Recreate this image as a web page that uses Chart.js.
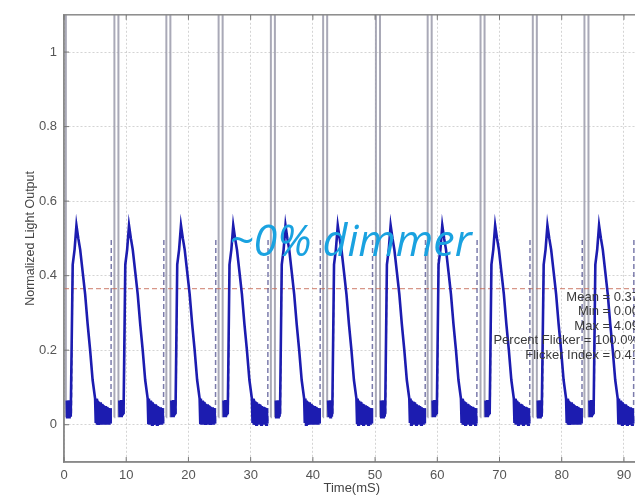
<!DOCTYPE html>
<html>
<head>
<meta charset="utf-8">
<script src="https://cdn.jsdelivr.net/npm/chart.js@4/dist/chart.umd.min.js"></script>
<style>
  body { margin: 0; background: #fff; overflow: hidden; }
  #wrap { width: 645px; height: 499px; }
</style>
</head>
<body>
<div id="wrap"><canvas id="myChart" width="645" height="499"></canvas></div>
<script>
// axis ticks
const xTicks = [0, 10, 20, 30, 40, 50, 60, 70, 80, 90];
const yTicks = [0, 0.2, 0.4, 0.6, 0.8, 1];

// time (ms) of each lamp spike
const cycleStarts = [0, 8.45, 16.8, 25.2, 33.6, 42.0, 50.5, 58.8, 67.3, 75.7, 84.0];

// blue light pulse after each spike (ms after spike, normalized output)
const pulseT = [0.45, 0.5, 0.58, 0.66, 0.74, 0.82, 0.9, 0.98, 1.05, 1.12,
  1.4, 1.7, 2.0, 2.3, 2.6, 3.0, 3.4, 3.8, 4.2, 4.6, 5.0,
  5.1, 5.2, 5.3, 5.4, 5.5, 5.6, 5.7, 5.8, 5.9, 6.0, 6.1, 6.2, 6.3, 6.4, 6.5,
  6.6, 6.7, 6.8, 6.9, 7.0, 7.1, 7.2, 7.3, 7.4, 7.5];
const pulseV = [0.065, 0.02, 0.062, 0.025, 0.066, 0.02, 0.06, 0.025, 0.055, 0.028,
  0.43, 0.47, 0.535, 0.5, 0.47, 0.41, 0.35, 0.27, 0.2, 0.12, 0.07,
  0.005, 0.07, 0.0, 0.065, 0.003, 0.062, 0.0, 0.06, 0.003, 0.056, 0.0, 0.055, 0.004, 0.052, 0.0,
  0.05, 0.003, 0.048, 0.0, 0.047, 0.004, 0.045, 0.0, 0.044, 0.003];

// fast sparse edges of the same trace
const riseT = [1.2, 1.4, 1.4, 7.55, 7.6];
const riseV = [0.03, 0.43, null, 0.01, 0.5];

// gray spike (goes off scale, max 4.09)
const spikeT = [-0.37, -0.35, 0.28, 0.3];
const spikeV = [0.02, 4.09, 4.09, 0.02];

const meanLevel = 0.365;
const statLines = ['Mean = 0.37', 'Min = 0.00', 'Max = 4.09', 'Percent Flicker = 100.0%', 'Flicker Index = 0.41'];
const overlayText = '~0% dimmer';

function buildSeries(tArr, vArr) {
  let pts = [];
  cycleStarts.forEach(s => {
    tArr.forEach((t, i) => {
      pts.push({x: s + t, y: vArr[i]});
    });
    pts.push({x: s + tArr[tArr.length - 1], y: null});
  });
  return pts;
}

const boxPlugin = {
  id: 'box',
  afterDraw(chart) {
    const ctx = chart.ctx;
    const a = chart.chartArea;
    const xs = chart.scales.x;
    const ys = chart.scales.y;
    ctx.save();
    ctx.strokeStyle = '#8a8a8a';
    ctx.lineWidth = 1.5;
    ctx.strokeRect(a.left, a.top, a.right - a.left, a.bottom - a.top);
    ctx.lineWidth = 1;
    ctx.strokeStyle = '#777';
    ctx.beginPath();
    xTicks.forEach(v => {
      let px = xs.getPixelForValue(v);
      ctx.moveTo(px, a.top); ctx.lineTo(px, a.top + 5);
      ctx.moveTo(px, a.bottom); ctx.lineTo(px, a.bottom - 5);
    });
    yTicks.forEach(v => {
      let py = ys.getPixelForValue(v);
      ctx.moveTo(a.left, py); ctx.lineTo(a.left + 5, py);
    });
    ctx.stroke();

    // stats box text
    ctx.font = '13px "Liberation Sans", Arial, sans-serif';
    ctx.fillStyle = '#3a3a3a';
    ctx.textAlign = 'right';
    ctx.textBaseline = 'middle';
    statLines.forEach((s, i) => {
      ctx.fillText(s, 639, 297 + i * 14.6);
    });

    // overlay label
    ctx.font = 'italic 43px "Open Sans", sans-serif';
    ctx.fillStyle = '#1aa2e0';
    ctx.textAlign = 'left';
    ctx.textBaseline = 'alphabetic';
    ctx.fillText(overlayText, 229, 256);
    ctx.restore();
  }
};

const ctx = document.getElementById('myChart');

new Chart(ctx, {
  type: 'line',
  data: {
    datasets: [
      {
        label: 'Light output',
        data: buildSeries(pulseT, pulseV),
        borderColor: '#1c1cb0',
        borderWidth: 2.6,
        pointRadius: 0,
        tension: 0
      },
      {
        label: 'Edges',
        data: buildSeries(riseT, riseV),
        borderColor: 'rgba(90, 90, 150, 0.8)',
        borderWidth: 1.5,
        borderDash: [5, 3],
        pointRadius: 0,
        tension: 0
      },
      {
        label: 'Mean',
        data: [{x: 0, y: meanLevel}, {x: 92.5, y: meanLevel}],
        borderColor: 'rgba(200, 110, 90, 0.9)',
        borderWidth: 1,
        borderDash: [5, 3],
        pointRadius: 0
      },
      {
        label: 'Spikes',
        data: buildSeries(spikeT, spikeV),
        borderColor: 'rgba(160, 160, 175, 0.9)',
        borderWidth: 2,
        pointRadius: 0,
        tension: 0
      }
    ]
  },
  options: {
    responsive: false,
    animation: false,
    layout: { padding: { left: 0, right: 5.5, top: 10, bottom: 0 } },
    plugins: {
      legend: { display: false },
      tooltip: { enabled: false }
    },
    scales: {
      x: {
        type: 'linear',
        min: 0,
        max: 92.5,
        afterBuildTicks: axis => { axis.ticks = xTicks.map(v => ({value: v})); },
        afterFit: axis => { axis.height = 37; },
        grid: { color: 'rgba(170,170,170,0.5)', drawTicks: false },
        border: { color: '#8a8a8a', width: 1.5, dash: [2, 2] },
        ticks: {
          padding: 6,
          maxRotation: 0,
          color: '#555',
          font: { family: '"Liberation Sans", Arial, sans-serif', size: 13 }
        },
        title: {
          display: true,
          text: 'Time(mS)',
          color: '#444',
          padding: { top: 0, bottom: 3 },
          font: { family: '"Liberation Sans", Arial, sans-serif', size: 13 }
        }
      },
      y: {
        type: 'linear',
        min: -0.1,
        max: 1.1,
        afterBuildTicks: axis => { axis.ticks = yTicks.map(v => ({value: v})); },
        afterFit: axis => { axis.width = 64; },
        grid: { color: 'rgba(170,170,170,0.5)', drawTicks: false },
        border: { color: '#8a8a8a', width: 1.5, dash: [2, 2] },
        ticks: {
          padding: 7,
          color: '#555',
          font: { family: '"Liberation Sans", Arial, sans-serif', size: 13 },
          callback: v => String(Math.round(v * 10) / 10)
        },
        title: {
          display: true,
          text: 'Normalized Light Output',
          color: '#444',
          padding: { top: 23, bottom: 0 },
          font: { family: '"Liberation Sans", Arial, sans-serif', size: 12.5 }
        }
      }
    }
  },
  plugins: [boxPlugin]
});
</script>
</body>
</html>
